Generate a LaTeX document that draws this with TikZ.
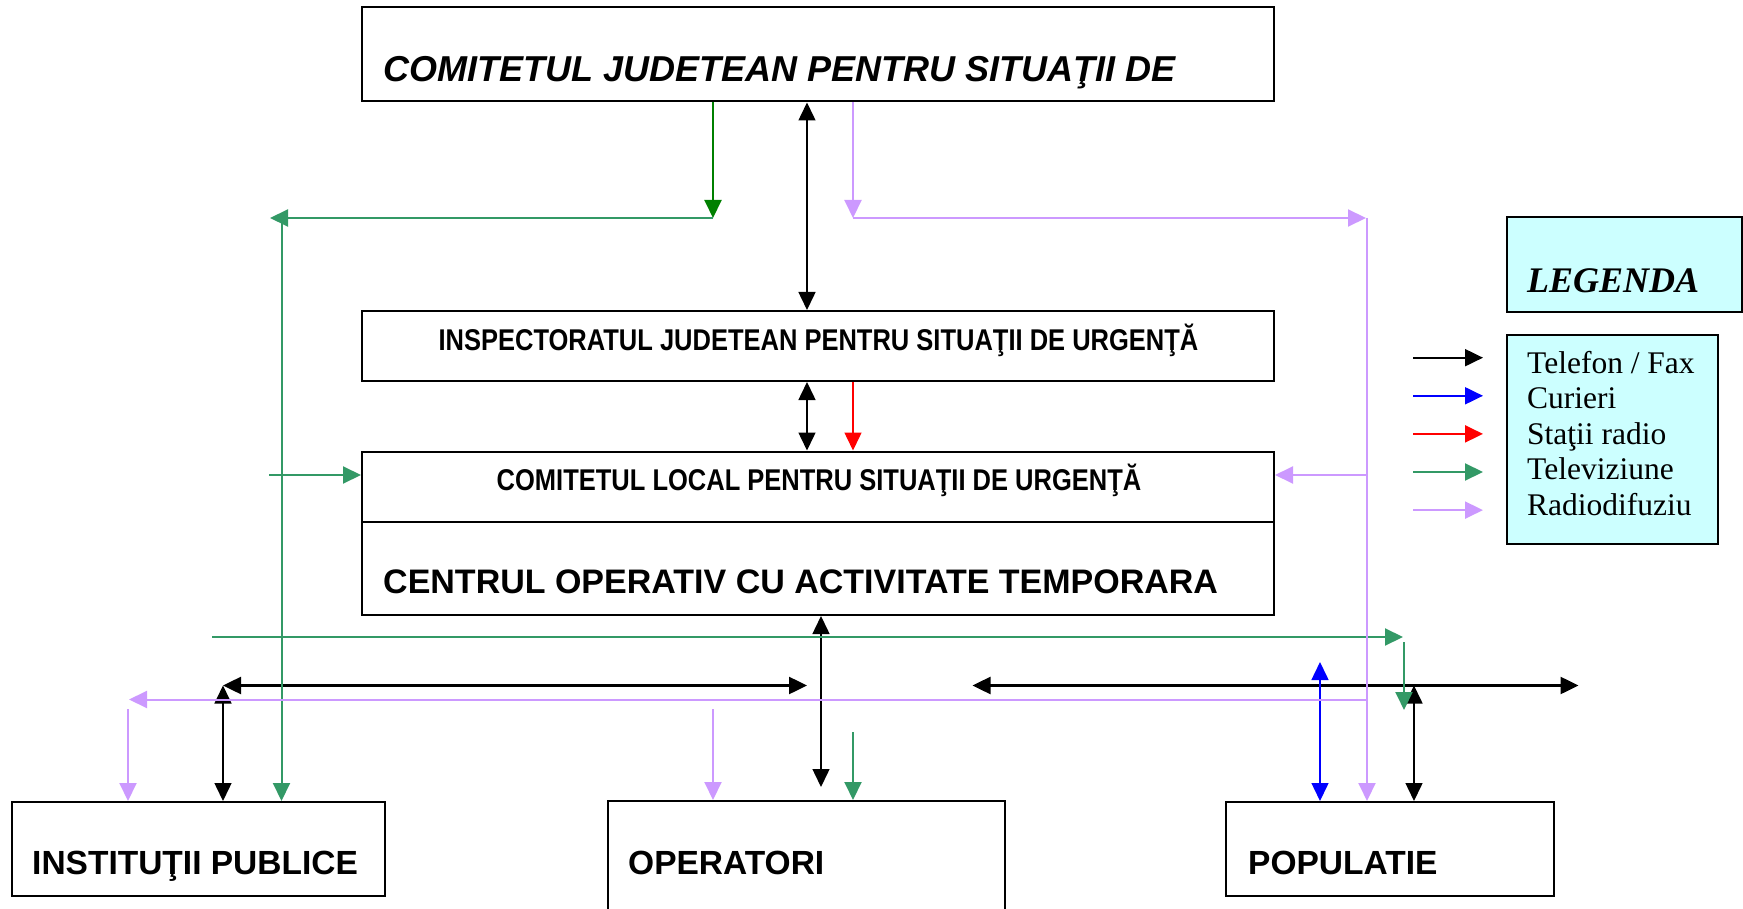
\documentclass[tikz,border=0pt]{standalone}
\usepackage{fontspec}
\setmainfont{Liberation Serif}
\newfontfamily\arialfont{Liberation Sans}
\newfontfamily\narrowfont[FakeStretch=0.85]{Liberation Sans}
\usetikzlibrary{arrows.meta}
\begin{document}
\begin{tikzpicture}[x=1pt, y=-1pt, >={Triangle[length=18pt, width=17pt]},
		box/.style={draw, line width=2pt, inner sep=0pt},
		legbox/.style={box, fill=legcolor},
		boxtext/.style={anchor=base west, inner sep=0pt, font=\arialfont\bfseries\fontsize{33.5}{36}\selectfont},
		midtext/.style={anchor=base, inner sep=0pt, font=\narrowfont\bfseries\fontsize{30}{34}\selectfont},
		legtext/.style={anchor=base west, inner sep=0pt, font=\fontsize{31.5}{36}\selectfont}]
			\definecolor{topgreen}{rgb}{0, 0.5, 0}
			\definecolor{tvcolor}{rgb}{0.2, 0.6, 0.4}
			\definecolor{radiocolor}{rgb}{0.8, 0.6, 1}
			\definecolor{legcolor}{rgb}{0.8, 1, 1}
			\useasboundingbox (0, 0) rectangle (1743, 909);

			\node[box, minimum width=912pt, minimum height=94pt] (cjsu) at (818, 54.5) {};
			\node[boxtext, font=\arialfont\bfseries\itshape\fontsize{36}{40}\selectfont] (cjsutext) at (383, 82) {COMITETUL JUDETEAN PENTRU SITUAŢII DE};
			\node[box, minimum width=912pt, minimum height=70pt] (isu) at (818, 346) {};
			\node[midtext] (isutext) at (818.5, 350) {INSPECTORATUL JUDETEAN PENTRU SITUAŢII DE URGENŢĂ};
			\node[box, minimum width=912pt, minimum height=70pt] (clsu) at (818, 486.5) {};
			\node[midtext] (clsutext) at (819, 490.5) {COMITETUL LOCAL PENTRU SITUAŢII DE URGENŢĂ};
			\node[box, minimum width=912pt, minimum height=93pt] (cota) at (818, 568.5) {};
			\node[boxtext, font=\arialfont\bfseries\fontsize{34}{36}\selectfont] (cotatext) at (383, 593) {CENTRUL OPERATIV CU ACTIVITATE TEMPORARA};

			\node[box, minimum width=373pt, minimum height=94pt] (ip) at (198.5, 849) {};
			\node[boxtext] (iptext) at (32, 874) {INSTITUŢII PUBLICE};
			\node[box, minimum width=397pt, minimum height=130pt] (op) at (806, 866) {};
			\node[boxtext] (optext) at (628, 874) {OPERATORI};
			\node[box, minimum width=328pt, minimum height=94pt] (pop) at (1390, 849) {};
			\node[boxtext] (poptext) at (1248, 874) {POPULATIE};

			\node[legbox, minimum width=235pt, minimum height=95pt] (leg) at (1624.5, 264.5) {};
			\node[legtext, font=\bfseries\itshape\fontsize{36}{40}\selectfont] (legtitle) at (1527, 293) {LEGENDA};
			\node[legbox, minimum width=211pt, minimum height=209pt] (legl) at (1612.5, 439.5) {};
			\foreach \t [count=\i] in {Telefon / Fax, Curieri, Staţii radio, Televiziune, Radiodifuziu}
				\node[legtext] (t\i) at (1527, 337.5+35.5*\i) {\t};
			\foreach \c [count=\i] in {black, blue, red, tvcolor, radiocolor} {
				\coordinate (ka\i) at (1413, 319.6+38.1*\i);
				\coordinate (kb\i) at (1483, 319.6+38.1*\i);
				\draw[\c, line width=2pt, ->] (ka\i) -- (kb\i);
			}

			\coordinate (cil) at (128, 0);
			\coordinate (cip) at (223, 0);
			\coordinate (cgl) at (281.5, 0);
			\coordinate (cgr) at (713, 0);
			\coordinate (cbk) at (807, 0);
			\coordinate (cbo) at (821, 0);
			\coordinate (cpu) at (853, 0);
			\coordinate (cbl) at (1320, 0);
			\coordinate (cpr) at (1367, 0);
			\coordinate (cgb) at (1404, 0);
			\coordinate (cpb) at (1414, 0);
			\coordinate (r1) at (0, 218);
			\coordinate (r2) at (0, 475);
			\coordinate (r4) at (0, 685.5);
			\coordinate (r5) at (0, 699.5);

			\begin{scope}[line width=1.5pt]
				\draw[<->] (cjsu.south -| cbk) -- (isu.north -| cbk);
				\draw[<->] (isu.south -| cbk) -- (clsu.north -| cbk);
				\draw[red, ->] (isu.south -| cpu) -- (clsu.north -| cpu);
				\coordinate (bo) at (821, 787);
				\draw[<->] (cota.south -| cbo) -- (bo);
				\draw[line width=2.5pt, <->] (cip |- r4) -- (cbk |- r4);
				\draw[<->] (cip |- r4) -- (ip.north -| cip);
				\coordinate (bl) at (972.5, 685.5);
				\coordinate (br) at (1578.5, 685.5);
				\draw[line width=2.5pt, <->] (bl) -- (br);
				\coordinate (cu) at (1320, 662);
				\draw[blue, <->] (cu) -- (pop.north -| cbl);
				\draw[<->] (cpb |- r4) -- (pop.north -| cpb);
			\end{scope}

			\begin{scope}[line width=2pt, tvcolor]
				\draw[topgreen, ->] (cjsu.south -| cgr) -- (cgr |- r1);
				\coordinate (g1) at (270, 218);
				\draw[->] (cgr |- r1) -- (g1);
				\draw[->] (cgl |- r1) -- (ip.north -| cgl);
				\coordinate (g2) at (269, 475);
				\draw[->] (g2) -- (clsu.west |- r2);
				\coordinate (g3) at (212, 637);
				\coordinate (g4) at (1403, 637);
				\draw[->] (g3) -- (g4);
				\coordinate (g5) at (1404, 642);
				\coordinate (g6) at (1404, 710);
				\draw[->] (g5) -- (g6);
				\coordinate (g7) at (853, 732);
				\draw[->] (g7) -- (op.north -| cpu);
			\end{scope}

			\begin{scope}[line width=2pt, radiocolor]
				\draw[->] (cjsu.south -| cpu) -- (cpu |- r1);
				\coordinate (p1) at (1366, 218);
				\draw[->] (cpu |- r1) -- (p1);
				\draw[->] (cpr |- r1) -- (pop.north -| cpr);
				\draw[->] (cpr |- r2) -- (clsu.east |- r2);
				\coordinate (p2) at (129, 699.5);
				\draw[->] (cpr |- r5) -- (p2);
				\coordinate (p3) at (128, 709);
				\draw[->] (p3) -- (ip.north -| cil);
				\coordinate (p4) at (713, 709);
				\draw[->] (p4) -- (op.north -| cgr);
			\end{scope}
		\end{tikzpicture}
\end{document}
